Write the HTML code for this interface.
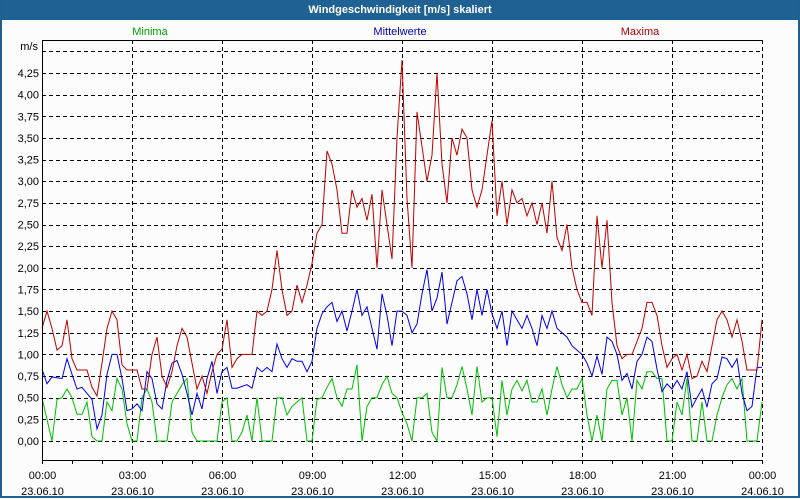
<!DOCTYPE html>
<html><head><meta charset="utf-8">
<style>
html,body{margin:0;padding:0;background:#fff;}
#win{position:relative;width:796px;height:496px;border:2px solid #1f5f92;border-top:none;background:#fcfcfc;overflow:hidden;}
#title{position:absolute;left:0;top:0;width:796px;height:20px;background:#1f6193;color:#fff;font:bold 11px "Liberation Sans",sans-serif;text-align:center;line-height:20px;}
svg text{font-family:"Liberation Sans",sans-serif;font-size:11px;}
</style></head><body>
<div id="win">
<div id="title">Windgeschwindigkeit [m/s] skaliert</div>
<svg id="chart" width="796" height="496" style="position:absolute;left:0;top:0">
<text x="148" y="35" fill="#00a000" text-anchor="middle">Minima</text>
<text x="398" y="35" fill="#0000c0" text-anchor="middle">Mittelwerte</text>
<text x="638" y="35" fill="#b00000" text-anchor="middle">Maxima</text>
<text x="36" y="50" text-anchor="end" fill="#000">m/s</text>
<g id="grid"></g><g id="series"></g><g id="axes"></g>
</svg>
</div>
<script>
const yTicks=[0,0.25,0.5,0.75,1,1.25,1.5,1.75,2,2.25,2.5,2.75,3,3.25,3.5,3.75,4,4.25];
const xTickLabels=["00:00","03:00","06:00","09:00","12:00","15:00","18:00","21:00","00:00"];
const xDateLabels=["23.06.10","23.06.10","23.06.10","23.06.10","23.06.10","23.06.10","23.06.10","23.06.10","24.06.10"];
const maxima=[1.3,1.5,1.3,1.05,1.1,1.4,0.95,0.82,0.82,0.82,0.62,0.52,0.9,1.3,1.5,1.4,0.88,0.82,
0.82,0.82,0.6,0.6,1.0,1.2,0.75,0.62,0.8,1.1,1.3,1.2,0.9,0.6,0.75,0.55,0.8,1.0,
1.06,1.4,0.85,0.95,1.0,1.0,1.0,1.5,1.45,1.5,1.75,2.2,1.75,1.45,1.5,1.8,1.6,1.8,
2.05,2.4,2.5,3.35,3.2,2.9,2.4,2.4,2.9,2.7,2.8,2.55,2.85,2.0,2.9,2.5,2.1,3.5,
4.4,2.8,2.0,3.8,3.4,3.0,3.3,4.25,3.2,2.75,3.5,3.3,3.6,3.5,2.9,2.7,2.9,3.3,
3.7,2.6,3.0,2.5,2.9,2.75,2.8,2.6,2.75,2.5,2.75,2.4,3.0,2.35,2.2,2.5,2.0,1.75,
1.6,1.6,1.45,2.6,2.0,2.55,1.6,1.1,0.95,1.0,1.0,1.15,1.3,1.6,1.6,1.45,1.1,0.85,
0.95,1.0,0.82,1.0,0.72,0.75,0.92,0.8,1.1,1.4,1.5,1.4,1.2,1.4,1.15,0.82,0.82,0.82,1.4];
const mittel=[0.83,0.66,0.74,0.73,0.72,0.95,0.77,0.6,0.62,0.55,0.48,0.14,0.3,0.77,1.0,1.0,0.72,0.35,
0.37,0.43,0.35,0.8,0.72,0.43,0.37,0.7,0.9,0.93,0.77,0.55,0.3,0.55,0.37,0.72,0.92,0.55,
0.8,0.85,0.61,0.61,0.63,0.65,0.61,0.85,0.8,0.85,0.8,1.12,0.95,0.85,0.95,0.92,0.92,0.8,
0.92,1.3,1.47,1.55,1.6,1.38,1.5,1.27,1.5,1.75,1.45,1.55,1.3,1.06,1.7,1.45,1.1,1.5,
1.5,1.45,1.25,1.35,1.7,1.98,1.5,1.65,1.95,1.35,1.6,1.85,1.9,1.7,1.4,1.75,1.45,1.75,
1.47,1.3,1.5,1.1,1.5,1.4,1.3,1.45,1.3,1.1,1.45,1.3,1.5,1.3,1.25,1.2,1.1,1.05,
1.0,0.9,0.75,0.98,0.77,1.2,1.15,1.0,0.7,0.78,0.6,0.92,1.0,1.2,1.15,0.83,0.57,0.66,
0.6,0.7,0.6,0.8,0.39,0.5,0.6,0.39,0.66,0.72,0.97,0.95,0.85,0.95,0.55,0.35,0.4,0.85,0.85];
const minima=[0.5,0.25,0,0.48,0.5,0.6,0.5,0.31,0.31,0.45,0.05,0,0,0.45,0.35,0.72,0.6,0.2,
0,0,0.5,0.6,0.45,0,0,0,0.45,0.55,0.65,0.72,0.1,0,0,0,0,0,
0.45,0.5,0,0,0.1,0.3,0,0.5,0,0,0,0.5,0.5,0.3,0.4,0.45,0.5,0,
0,0.48,0.5,0.62,0.72,0.5,0.4,0.6,0.6,0.88,0,0.4,0.5,0.5,0.65,0.75,0.55,0.5,
0.33,0.2,0,0.5,0.5,0.55,0.1,0,0.85,0.5,0.5,0.65,0.86,0.6,0.3,0.86,0.45,0.5,
0.5,0.05,0.7,0.3,0.6,0.7,0.58,0.7,0.45,0.45,0.6,0.3,0.6,0.86,0.65,0.5,0.6,0.6,
0.72,0.3,0,0.3,0,0.6,0.7,0.7,0.3,0.5,0,0.7,0.6,0.8,0.8,0.72,0.72,0,
0,0.45,0.3,0.72,0,0,0.45,0,0,0.3,0.5,0.65,0.72,0.6,0.72,0,0,0,0.45];
const NS="http://www.w3.org/2000/svg";
const X0=40,X1=760,Y0=441,PXV=86.6,TOP=40,BOT=460;
function xScale(i,n){return X0+(X1-X0)*i/(n-1);}
function yScale(v){return Y0-v*PXV;}
function mk(t,a,p){const e=document.createElementNS(NS,t);for(const k in a)e.setAttribute(k,a[k]);p.appendChild(e);return e;}
const grid=document.getElementById('grid'),axes=document.getElementById('axes'),ser=document.getElementById('series');
for(let k=0;k<=18;k++){const y=Math.round(yScale(k*0.25))+0.5;
 const l=mk('line',{x1:X0,x2:X1,y1:y,y2:y,stroke:'#000','stroke-dasharray':'4,3','stroke-width':1},grid);
 
 }
yTicks.forEach(v=>{const t=mk('text',{x:37,y:yScale(v)+4,'text-anchor':'end',fill:'#000'},axes);t.textContent=v.toFixed(2).replace('.',',');
 
 });
xTickLabels.forEach((lab,k)=>{const x=Math.round(X0+(X1-X0)*k/(xTickLabels.length-1))+0.5;
 if(k>0){const l=mk('line',{x1:x,x2:x,y1:TOP,y2:BOT,stroke:'#000','stroke-dasharray':'4,3'},grid);
 
 }
 const t=mk('text',{x:x,y:479,'text-anchor':'middle',fill:'#000'},axes);t.textContent=lab;
 
 
 const d=mk('text',{x:x,y:495,'text-anchor':'middle',fill:'#000'},axes);d.textContent=xDateLabels[k];
 
 });
for(let h=0;h<=24;h++){const x=X0+30*h+0.5;const l=mk('line',{x1:x,x2:x,y1:BOT,y2:BOT+4,stroke:'#000'},axes);
 
 }
const frame=mk('path',{d:`M${X0+0.5},${BOT+0.5}V${TOP+0.5}H${X1+0.5}M${X0+0.5},${BOT+0.5}H${X1+0.5}`,stroke:'#000',fill:'none'},axes);


function line(arr,color,name){const pts=arr.map((v,i)=>xScale(i,arr.length).toFixed(1)+','+yScale(v).toFixed(1)).join(' ');
 const p=mk('polyline',{points:pts,fill:'none',stroke:color,'stroke-width':1},ser);
 
 }
line(minima,'#00c000','minima-line');
line(mittel,'#0000ee','mittelwerte-line');
line(maxima,'#c00000','maxima-line');
</script>
</body></html>
